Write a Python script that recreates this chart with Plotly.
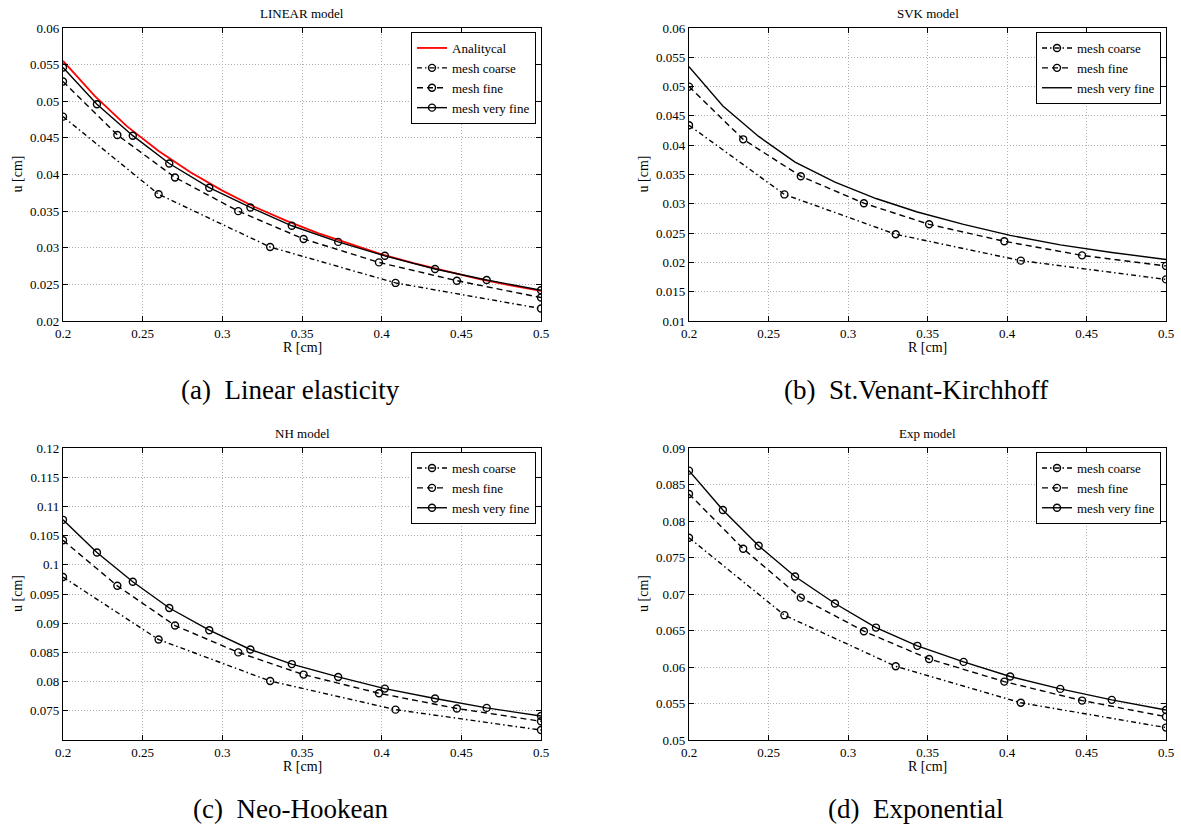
import plotly.graph_objects as go

# ---------------- data ----------------
R_vf = [0.2, 0.2213, 0.2438, 0.2667, 0.2918, 0.3176, 0.3436, 0.3727, 0.402, 0.4335, 0.4659, 0.5]
R_f = [0.2, 0.2341, 0.2703, 0.31, 0.351, 0.3983, 0.4472, 0.5]
R_c = [0.2, 0.26, 0.33, 0.4087, 0.5]
R_an = [0.20, 0.22, 0.24, 0.26, 0.28, 0.30, 0.32, 0.34, 0.36, 0.38, 0.40, 0.42, 0.44, 0.46, 0.48, 0.50]

lin_an = [0.0555, 0.0507, 0.0466, 0.0432, 0.0403, 0.0378, 0.0356, 0.0337, 0.0320, 0.0305,
          0.0291, 0.0279, 0.0268, 0.0258, 0.0249, 0.0241]
lin_vf = [0.0546, 0.0496, 0.0453, 0.0415, 0.0382, 0.0355, 0.0330, 0.0308, 0.0289, 0.0271, 0.0256, 0.0242]
lin_f = [0.0527, 0.0454, 0.0396, 0.0350, 0.0312, 0.0280, 0.0255, 0.0232]
lin_c = [0.0479, 0.0373, 0.0301, 0.0252, 0.0217]

svk_vf = [0.0534, 0.0467, 0.0415, 0.0371, 0.0337, 0.0309, 0.0286, 0.0265, 0.0246, 0.0230, 0.0217, 0.0205]
svk_f = [0.0500, 0.0410, 0.0347, 0.0301, 0.0265, 0.0236, 0.0212, 0.0194]
svk_c = [0.0434, 0.0316, 0.0248, 0.0203, 0.0171]

nh_vf = [0.1077, 0.1021, 0.0971, 0.0926, 0.0888, 0.0855, 0.0830, 0.0808, 0.0788, 0.0771, 0.0755, 0.0741]
nh_f = [0.1042, 0.0964, 0.0896, 0.0850, 0.0812, 0.0780, 0.0754, 0.0732]
nh_c = [0.0979, 0.0872, 0.0801, 0.0752, 0.0717]

exp_vf = [0.0869, 0.0815, 0.0766, 0.0724, 0.0687, 0.0654, 0.0629, 0.0607, 0.0587, 0.0570, 0.0555, 0.0541]
exp_f = [0.0837, 0.0762, 0.0695, 0.0649, 0.0611, 0.0580, 0.0554, 0.0532]
exp_c = [0.0777, 0.0671, 0.0601, 0.0551, 0.0517]

x_ticks = [0.2, 0.25, 0.3, 0.35, 0.4, 0.45, 0.5]
x_ticklabels = ["0.2", "0.25", "0.3", "0.35", "0.4", "0.45", "0.5"]
y_ticks_a = [0.02, 0.025, 0.03, 0.035, 0.04, 0.045, 0.05, 0.055, 0.06]
y_ticklabels_a = ["0.02", "0.025", "0.03", "0.035", "0.04", "0.045", "0.05", "0.055", "0.06"]
y_ticks_b = [0.01, 0.015, 0.02, 0.025, 0.03, 0.035, 0.04, 0.045, 0.05, 0.055, 0.06]
y_ticklabels_b = ["0.01", "0.015", "0.02", "0.025", "0.03", "0.035", "0.04", "0.045", "0.05", "0.055", "0.06"]
y_ticks_c = [0.075, 0.08, 0.085, 0.09, 0.095, 0.1, 0.105, 0.11, 0.115, 0.12]
y_ticklabels_c = ["0.075", "0.08", "0.085", "0.09", "0.095", "0.1", "0.105", "0.11", "0.115", "0.12"]
y_ticks_d = [0.05, 0.055, 0.06, 0.065, 0.07, 0.075, 0.08, 0.085, 0.09]
y_ticklabels_d = ["0.05", "0.055", "0.06", "0.065", "0.07", "0.075", "0.08", "0.085", "0.09"]

titles = ["LINEAR model", "SVK model", "NH model", "Exp model"]
captions = ["(a)\u2002Linear elasticity", "(b)\u2002St.Venant-Kirchhoff",
            "(c)\u2002Neo-Hookean", "(d)\u2002Exponential"]
names = ["mesh coarse", "mesh fine", "mesh very fine"]

# ---------------- figure ----------------
W, H = 1181, 827
FONT = "Liberation Serif"
fig = go.Figure()

DASH_C = "5px,3px,1.5px,3px"
DASH_F = "6px,4px"
LW = 1.4
MK = dict(symbol="circle-open", size=7, color="black", line=dict(width=1.4, color="black"))


def add_panel(i, rc, yc, rf, yf, rv, yv, vf_markers=True, analytic=None):
    ax = "" if i == 1 else str(i)
    xa, ya = "x" + ax, "y" + ax
    lg = "legend" if i == 1 else "legend" + str(i)
    if analytic is not None:
        fig.add_trace(go.Scatter(x=analytic[0], y=analytic[1], mode="lines", name="Analitycal",
                                 line=dict(color="#ff0000", width=1.8), xaxis=xa, yaxis=ya, legend=lg))
    fig.add_trace(go.Scatter(x=rc, y=yc, mode="lines+markers", name=names[0],
                             line=dict(color="black", width=LW, dash=DASH_C), marker=MK,
                             xaxis=xa, yaxis=ya, legend=lg))
    fig.add_trace(go.Scatter(x=rf, y=yf, mode="lines+markers", name=names[1],
                             line=dict(color="black", width=LW, dash=DASH_F), marker=MK,
                             xaxis=xa, yaxis=ya, legend=lg))
    fig.add_trace(go.Scatter(x=rv, y=yv, mode="lines+markers" if vf_markers else "lines", name=names[2],
                             line=dict(color="black", width=LW), marker=MK,
                             xaxis=xa, yaxis=ya, legend=lg))


add_panel(1, R_c, lin_c, R_f, lin_f, R_vf, lin_vf, analytic=(R_an, lin_an))
add_panel(2, R_c, svk_c, R_f, svk_f, R_vf, svk_vf, vf_markers=False)
add_panel(3, R_c, nh_c, R_f, nh_f, R_vf, nh_vf)
add_panel(4, R_c, exp_c, R_f, exp_f, R_vf, exp_vf)

# pixel layout of plot areas
px_x = [(63, 541), (689, 1166), (63, 541), (689, 1166)]
px_y = [(28, 321), (28, 321), (448, 740), (448, 740)]
yranges = [(0.02, 0.06), (0.01, 0.06), (0.07, 0.12), (0.05, 0.09)]
yticks = [(y_ticks_a, y_ticklabels_a), (y_ticks_b, y_ticklabels_b),
          (y_ticks_c, y_ticklabels_c), (y_ticks_d, y_ticklabels_d)]

axis_common = dict(showline=True, linecolor="black", linewidth=1.2, mirror="allticks",
                   ticks="inside", ticklen=5, tickwidth=1, tickcolor="black",
                   showgrid=True, gridcolor="#b0b0b0", griddash="1px,2px", gridwidth=1,
                   zeroline=False, tickfont=dict(family=FONT, size=13, color="black"),
                   automargin=False, fixedrange=True)

layout = {}
for k in range(4):
    ax = "" if k == 0 else str(k + 1)
    x0, x1 = px_x[k]
    y0, y1 = px_y[k]
    layout["xaxis" + ax] = dict(axis_common, domain=[x0 / W, x1 / W], range=[0.2, 0.5],
                                tickvals=x_ticks, ticktext=x_ticklabels,
                                anchor="y" + ax)
    layout["yaxis" + ax] = dict(axis_common, domain=[1 - y1 / H, 1 - y0 / H], range=list(yranges[k]),
                                tickvals=yticks[k][0], ticktext=yticks[k][1],
                                anchor="x" + ax)
    lg = "legend" if k == 0 else "legend" + str(k + 1)
    layout[lg] = dict(x=(x1 - 5) / W, y=1 - (y0 + 4) / H, xanchor="right", yanchor="top",
                      bgcolor="white", bordercolor="black", borderwidth=1,
                      font=dict(family=FONT, size=13, color="black"),
                      itemwidth=30, tracegroupgap=0, traceorder="normal")

annotations = []
for k in range(4):
    x0, x1 = px_x[k]
    y0, y1 = px_y[k]
    cx = (x0 + x1) / 2
    annotations.append(dict(text=titles[k], x=cx / W, y=1 - (y0 - 15) / H, xref="paper", yref="paper",
                            showarrow=False, font=dict(family=FONT, size=13, color="black"),
                            xanchor="center", yanchor="middle"))
    annotations.append(dict(text="R [cm]", x=cx / W, y=1 - (y1 + 26) / H, xref="paper", yref="paper",
                            showarrow=False, font=dict(family=FONT, size=14, color="black"),
                            xanchor="center", yanchor="middle"))
    annotations.append(dict(text="u [cm]", x=(x0 - 46) / W, y=1 - ((y0 + y1) / 2) / H, xref="paper",
                            yref="paper", showarrow=False, textangle=-90,
                            font=dict(family=FONT, size=14, color="black"),
                            xanchor="center", yanchor="middle"))
    annotations.append(dict(text=captions[k], x=(cx - 12) / W, y=1 - (y1 + 69) / H, xref="paper",
                            yref="paper", showarrow=False,
                            font=dict(family=FONT, size=27, color="black"),
                            xanchor="center", yanchor="middle"))

fig.update_layout(width=W, height=H, margin=dict(l=0, r=0, t=0, b=0),
                  paper_bgcolor="white", plot_bgcolor="white", showlegend=True,
                  annotations=annotations, **layout)

fig.write_html("out.html", config={"displayModeBar": False})
